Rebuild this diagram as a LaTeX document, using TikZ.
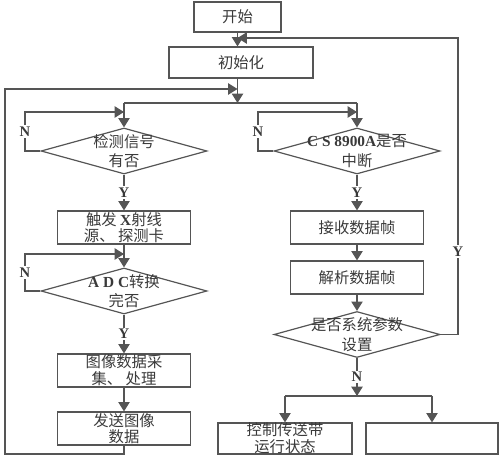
\documentclass[tikz,border=0pt]{standalone}
\usepackage{fontspec}
\setmainfont{Liberation Serif}
\newfontfamily\cjk{Noto Sans CJK SC}
\usepackage{xcolor}
\usetikzlibrary{arrows.meta,positioning,shapes.geometric}
\definecolor{lncol}{HTML}{555555}
\definecolor{txcol}{HTML}{3A3A3A}
\newcommand{\latb}[1]{{\rmfamily\bfseries #1}}

\begin{document}
\begin{tikzpicture}[x=0.75pt,y=-0.75pt,
    font=\cjk\fontsize{11.5}{12.5}\selectfont, text=txcol,
    wire/.style={draw=lncol, line width=0.9pt},
    arr/.style={wire, -{Triangle[length=7pt,width=8.5pt]}},
    box/.style={wire, rectangle, align=center, inner sep=0pt, minimum width=99.75pt, minimum height=24.75pt},
    dec/.style={wire, diamond, inner sep=0pt, minimum width=124.5pt, minimum height=34.5pt},
    yn/.style={fill=white, inner sep=1pt, font=\rmfamily\bfseries\fontsize{11}{11}\selectfont}]
    \useasboundingbox (0,0) rectangle (500,459);
    \node[box, minimum width=65.25pt, minimum height=22.5pt] (start) at (237.5,17) {开始};
    \node[box, minimum width=108pt, minimum height=23.25pt] (init) at (241,62.5) {初始化};
    \node[dec, label={[align=center]center:{检测信号\\[2pt]有否}}] (d1) at (124,151) {};
    \node[box] (trig) at (124,227.5) {触发 \latb{X}射线\\源、 探测卡};
    \node[dec, label={[align=center]center:{\latb{A D C}转换\\[2pt]完否}}] (d2) at (124,291) {};
    \node[box] (img) at (124,370.5) {图像数据采\\集、 处理};
    \node[box] (send) at (124,428.5) {发送图像\\数据};
    \node[dec, label={[align=center]center:{\latb{C S 8900A}是否\\[2pt]中断}}] (d3) at (357,151) {};
    \node[box] (recv) at (357,227.5) {接收数据帧};
    \node[box] (parse) at (357,277.5) {解析数据帧};
    \node[dec, label={[align=center]center:{是否系统参数\\[2pt]设置}}] (d4) at (357,334.5) {};
    \node[box, minimum width=100.5pt, minimum height=23.25pt] (ctrl) at (285,438.5) {控制传送带\\运行状态};
    \node[box, minimum width=99pt, minimum height=23.25pt] (other) at (432,438.5) {};
    \coordinate (rtop) at (458,38);
    \coordinate (rjoin) at (237.5,38);
    \coordinate (fork) at (237.5,103);
    \coordinate (ljoin) at (237.5,89);
    \coordinate (lbot) at (5,454);
    \coordinate (n1) at (25,112);
    \coordinate (n2) at (25,254);
    \coordinate (n3) at (258,112);
    \coordinate (split) at (357,396);
    \draw[arr] (start) -- (start |- init.north);
    \draw[arr] (d4.east) -| node[yn, pos=0.64] (y4) {Y} (rtop) -- (rjoin);
    \draw[arr] (init.south -| fork) -- (fork);
    \draw[arr] (send.south) |- (lbot) |- (ljoin);
    \draw[wire] (d1 |- fork) -- (d3 |- fork);
    \draw[arr] (d1 |- fork) -- (d1.north);
    \draw[arr] (d3 |- fork) -- (d3.north);
    \draw[arr] (d1.west) -| node[yn, pos=0.75] (nl1) {N} (n1) -- (d1 |- n1);
    \draw[arr] (d1) -- node[yn] (y1) {Y} (trig);
    \draw[arr] (trig) -- (d2);
    \draw[arr] (d2.west) -| node[yn, pos=0.75] (nl2) {N} (n2) -- (d2 |- n2);
    \draw[arr] (d2) -- node[yn] (y2) {Y} (img);
    \draw[arr] (img) -- (send);
    \draw[arr] (d3.west) -| node[yn, pos=0.75] (nl3) {N} (n3) -- (d3 |- n3);
    \draw[arr] (d3) -- node[yn] (y3) {Y} (recv);
    \draw[arr] (recv) -- (parse);
    \draw[arr] (parse) -- (d4);
    \draw[arr] (d4) -- node[yn] (nl4) {N} (split);
    \draw[wire] (ctrl |- split) -- (other |- split);
    \draw[arr] (ctrl |- split) -- (ctrl);
    \draw[arr] (other |- split) -- (other);
\end{tikzpicture}
\end{document}
